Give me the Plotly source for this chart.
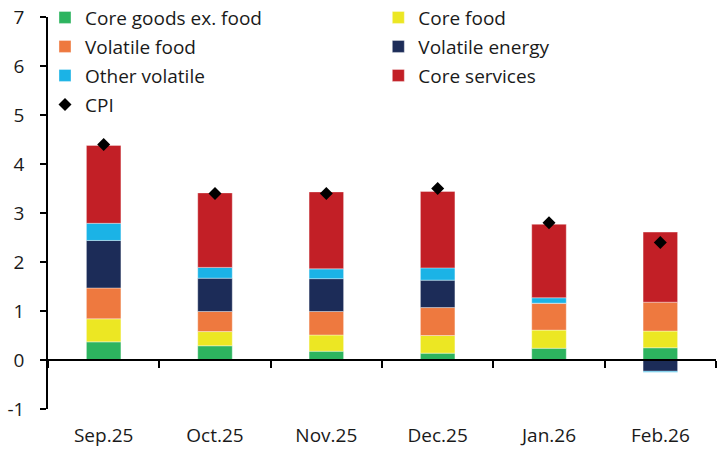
import plotly.graph_objects as go

months = ["Sep.25", "Oct.25", "Nov.25", "Dec.25", "Jan.26", "Feb.26"]

core_goods = [0.37, 0.29, 0.18, 0.14, 0.24, 0.25]
core_food = [0.47, 0.29, 0.33, 0.36, 0.37, 0.34]
volatile_food = [0.63, 0.41, 0.48, 0.57, 0.55, 0.59]
volatile_energy = [0.97, 0.68, 0.67, 0.56, 0.0, -0.23]
other_volatile = [0.35, 0.22, 0.20, 0.25, 0.11, -0.02]
core_services = [1.59, 1.52, 1.57, 1.56, 1.50, 1.43]
cpi = [4.4, 3.4, 3.4, 3.5, 2.8, 2.4]

y_ticks = [-1, 0, 1, 2, 3, 4, 5, 6, 7]
y_tick_labels = ["-1", "0", "1", "2", "3", "4", "5", "6", "7"]

FONT = "Open Sans"
TEXT = "#1a1a1a"
SIZE = 19

series = [
    ("Core goods ex. food", core_goods, "#2DB45F", "legend"),
    ("Core food", core_food, "#ECE723", "legend2"),
    ("Volatile food", volatile_food, "#EE793F", "legend"),
    ("Volatile energy", volatile_energy, "#1C2C58", "legend2"),
    ("Other volatile", other_volatile, "#1BB3E6", "legend"),
    ("Core services", core_services, "#C21F26", "legend2"),
]

fig = go.Figure()
for name, vals, color, leg in series:
    fig.add_trace(go.Bar(
        x=months, y=vals, name=name, legend=leg, legendgroup=name,
        marker=dict(color=color, line=dict(color="rgba(255,255,255,0.6)", width=0.6)),
    ))

fig.add_trace(go.Scatter(
    x=months, y=cpi, name="CPI", mode="markers", legend="legend", legendgroup="CPI",
    marker=dict(symbol="diamond", size=10, color="black"),
))

# invisible carrier for the zero-line axis with boundary ticks
fig.add_trace(go.Scatter(
    x=months, y=[0] * len(months), xaxis="x2", mode="markers",
    marker=dict(opacity=0), showlegend=False, hoverinfo="skip",
))

legend_style = dict(
    orientation="v", bgcolor="rgba(0,0,0,0)", borderwidth=0,
    font=dict(family=FONT, size=SIZE, color=TEXT),
    tracegroupgap=1.3, itemwidth=30, xanchor="left", yanchor="top",
)

fig.update_layout(
    width=720, height=451,
    margin=dict(l=48, r=4, t=17, b=42, autoexpand=False),
    paper_bgcolor="white", plot_bgcolor="white",
    barmode="relative", bargap=0.69,
    font=dict(family=FONT, size=SIZE, color=TEXT),
    legend=dict(x=-0.0045, y=1.047, **legend_style),
    legend2=dict(x=0.4945, y=1.047, **legend_style),
    xaxis=dict(
        type="category", categoryorder="array", categoryarray=months,
        range=[-0.5, 5.5], showline=False, ticks="", showgrid=False,
        ticklabelstandoff=13, tickfont=dict(size=SIZE, color=TEXT),
    ),
    xaxis2=dict(
        type="category", categoryorder="array", categoryarray=months,
        range=[-0.5, 5.5], overlaying="x", anchor="free", position=0.125,
        showline=True, linecolor="black", linewidth=1.5,
        ticks="outside", tickson="boundaries", ticklen=7, tickwidth=1.5, tickcolor="black",
        showticklabels=False, showgrid=False,
    ),
    yaxis=dict(
        range=[-1, 7], tickvals=y_ticks, ticktext=y_tick_labels,
        showgrid=False, zeroline=False,
        showline=True, linecolor="black", linewidth=1.5,
        ticks="outside", ticklen=6, tickwidth=1.5, tickcolor="black",
        ticklabelstandoff=12, tickfont=dict(size=SIZE, color=TEXT),
    ),
    showlegend=True,
)

fig.write_html("out.html")
